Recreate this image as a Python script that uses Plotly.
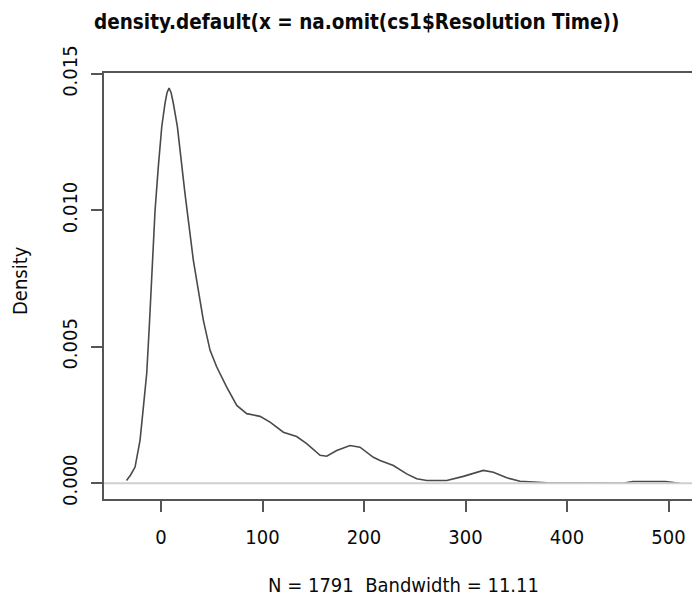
import plotly.graph_objects as go

# Kernel density estimate (x = resolution time, y = density)
x_vals = [-34.0, -30.0, -25.6, -20.7, -17.4, -14.1, -11.5, -7.6, -5.9, -2.7, 0.7, 3.9, 5.9,
          7.9, 9.9, 12.1, 16.1, 23.6, 31.8, 38.4, 41.7, 48.3, 54.9, 64.7, 74.6, 84.4,
          97.5, 107.4, 120.5, 133.6, 143.5, 156.7, 163.2, 173.1, 186.2, 196.0, 209.2,
          215.8, 228.9, 242.0, 251.9, 261.8, 281.5, 297.8, 317.5, 327.4, 340.6, 353.7,
          366.8, 380.0, 455.0, 465.0, 497.0, 505.0, 511.0]
density_vals = [0.00010, 0.00030, 0.00059, 0.00157, 0.00279, 0.00403, 0.00580, 0.00879,
                0.01000, 0.01160, 0.01307, 0.01393, 0.01432, 0.01449, 0.01432, 0.01393,
                0.01307, 0.01062, 0.00818, 0.00670, 0.00597, 0.00487, 0.00426, 0.00352,
                0.00285, 0.00255, 0.00245, 0.00224, 0.00187, 0.00171, 0.00145, 0.00102,
                0.00099, 0.00120, 0.00138, 0.00132, 0.00095, 0.00083, 0.00065, 0.00034,
                0.00016, 0.00010, 0.00010, 0.00025, 0.00047, 0.00040, 0.00020, 0.00007,
                0.00005, 0.00001, 0.00000, 0.00006, 0.00006, 0.00001, 0.00000]

x_ticks = [0, 100, 200, 300, 400, 500]
y_ticks = [0.000, 0.005, 0.010, 0.015]
y_tick_text = ["0.000", "0.005", "0.010", "0.015"]

title_text = "density.default(x = na.omit(cs1$Resolution Time))"
xlab_text = "N = 1791  Bandwidth = 11.11"
ylab_text = "Density"

FONT = "DejaVu Sans Condensed, Liberation Sans Narrow, sans-serif"
AXC = "#555555"
TXT = "#0a0a0a"

fig = go.Figure()
fig.add_trace(go.Scatter(x=x_vals, y=density_vals, mode="lines",
                         line=dict(color="#4a4a4a", width=1.6), hoverinfo="skip",
                         showlegend=False))

# zero line (drawn on top, as R's plot.density does)
fig.add_shape(type="line", xref="paper", yref="y", x0=0, x1=1, y0=0, y1=0,
              line=dict(color="#cfcfcf", width=2), layer="above")

# the page body adds an 8px margin, so the figure is 692x590 to fill the 700x598 window
fig.update_layout(
    width=692, height=590,
    margin=dict(l=96, r=0, t=65, b=99, autoexpand=False),
    paper_bgcolor="white", plot_bgcolor="white",
    font=dict(family=FONT, size=20, color=TXT),
    showlegend=False,
    xaxis=dict(range=[-56.2, 531], tickvals=x_ticks, showgrid=False, zeroline=False,
               showline=True, linecolor=AXC, linewidth=1.6, mirror=True,
               ticks="outside", ticklen=11, tickwidth=1.5, tickcolor=AXC,
               automargin=False, ticklabelstandoff=8,
               tickfont=dict(family=FONT, size=20, color=TXT)),
    yaxis=dict(range=[-0.00058, 0.01504], tickvals=y_ticks, ticktext=y_tick_text,
               showgrid=False, zeroline=False, showline=True, linecolor=AXC,
               linewidth=1.6, mirror=False, ticks="outside", ticklen=11, tickwidth=1.5,
               tickcolor=AXC, tickangle=-90, ticklabelstandoff=6, automargin=False,
               tickfont=dict(family=FONT, size=20, color=TXT)),
    annotations=[
        dict(text="<b>" + title_text + "</b>", xref="paper", yref="paper",
             x=0.4237, y=1.1197, xanchor="center", yanchor="middle", showarrow=False,
             font=dict(family=FONT, size=20.5, color=TXT)),
        dict(text=xlab_text, xref="paper", yref="paper", x=0.5017, y=-0.2019,
             xanchor="center", yanchor="middle", showarrow=False,
             font=dict(family=FONT, size=20, color=TXT)),
        dict(text=ylab_text, xref="paper", yref="paper", x=-0.1409, y=0.5117,
             xanchor="center", yanchor="middle", showarrow=False, textangle=-90,
             font=dict(family=FONT, size=20, color=TXT)),
    ],
)

fig.write_html("out.html")
